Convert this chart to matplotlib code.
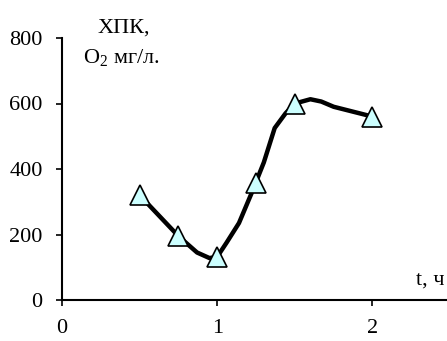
import matplotlib
matplotlib.use("Agg")
import matplotlib.pyplot as plt

# measured points (markers)
t_points = [0.5, 0.75, 1.0, 1.25, 1.5, 2.0]
cod_points = [320, 195, 132, 358, 600, 560]

# smoothed curve drawn through them
t_curve = [0.5, 0.75, 0.87, 0.95, 1.0, 1.06, 1.14, 1.22, 1.3, 1.37, 1.44,
           1.5, 1.6, 1.67, 1.75, 2.0]
cod_curve = [320, 195, 145, 128, 132, 175, 235, 325, 420, 525, 570,
             600, 613, 606, 590, 560]

y_ticks = [0, 200, 400, 600, 800]
x_ticks = [0, 1, 2]

plt.rcParams['font.family'] = ['Liberation Serif', 'DejaVu Serif']
plt.rcParams['mathtext.fontset'] = 'custom'
plt.rcParams['mathtext.rm'] = 'Liberation Serif'
plt.rcParams['mathtext.it'] = 'Liberation Serif'

fig = plt.figure(figsize=(4.47, 3.41), dpi=100)
ax = fig.add_axes([62 / 447, 41 / 341, 385 / 447, 262 / 341])

ax.plot(t_curve, cod_curve, color='black', lw=3.2, solid_joinstyle='round',
        zorder=2)
ax.plot(t_points, cod_points, ls='none', marker='^', ms=14,
        mfc='#CCFFFF', mec='black', mew=1.2, zorder=3)

ax.set_xlim(0, 2.48)
ax.set_ylim(0, 800)
ax.set_xticks(x_ticks)
ax.set_yticks(y_ticks)
ax.tick_params(axis='y', direction='out', length=4, width=1.2, labelsize=16,
               pad=10)
ax.tick_params(axis='x', direction='out', length=4, width=1.2, labelsize=16,
               pad=10)

for side in ['top', 'right']:
    ax.spines[side].set_visible(False)
for side in ['left', 'bottom']:
    ax.spines[side].set_linewidth(1.5)

fig.text(124 / 447, 1 - 28 / 341, 'ХПК,', ha='center', va='center',
         fontsize=16)
fig.text(121 / 447, 1 - 58 / 341, r'O$_\mathrm{2}$ мг/л.', ha='center',
         va='center', fontsize=16)
fig.text(430 / 447, 1 - 280 / 341, 't, ч', ha='center', va='center',
         fontsize=16)

fig.savefig('out.png', dpi=100)
